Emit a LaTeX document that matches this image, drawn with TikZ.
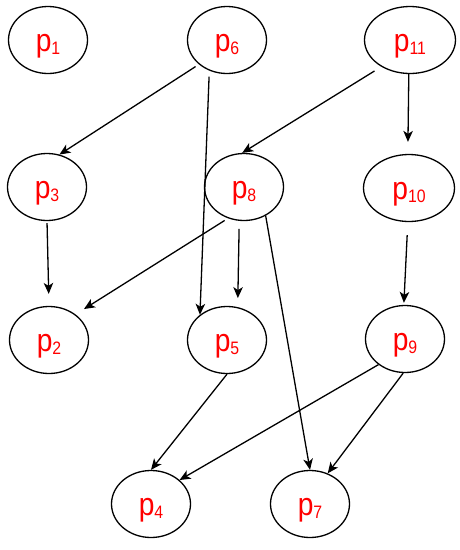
\documentclass[tikz,border=0pt]{standalone}
\usepackage{fontspec}
\usetikzlibrary{shapes.geometric, arrows.meta}
\newfontfamily\labelfont[FakeStretch=0.88]{Liberation Sans}
\newcommand{\pname}[1]{p\raisebox{-3.5pt}{\fontsize{18}{18}\selectfont #1}}

\begin{document}
\begin{tikzpicture}[
    x=1pt, y=-1pt,
    >={Stealth[length=11pt, width=9.5pt, inset=3pt]},
    proc/.style={ellipse, draw, line width=1.3pt, minimum width=79pt, minimum height=67pt,
                 inner sep=0pt, text=red, font=\labelfont\fontsize{32}{34}\selectfont,
                 text height=22pt, text depth=0pt},
    wide/.style={minimum width=91pt},
    dep/.style={->, line width=1.3pt}
  ]
  \useasboundingbox (0,0) rectangle (459,550);

  % --- PROCESSES ---
  \node[proc] (p1) at (48,40) {\pname{1}};
  \node[proc] (p6) at (227,40) {\pname{6}};
  \node[proc, wide] (p11) at (410,40) {\pname{11}};

  \node[proc] (p3) at (47,187) {\pname{3}};
  \node[proc] (p8) at (244,187) {\pname{8}};
  \node[proc, wide] (p10) at (409,188) {\pname{10}};

  \node[proc] (p2) at (49,340) {\pname{2}};
  \node[proc] (p5) at (227,340) {\pname{5}};
  \node[proc] (p9) at (405,339) {\pname{9}};

  \node[proc] (p4) at (151,504) {\pname{4}};
  \node[proc] (p7) at (310,504) {\pname{7}};

  % --- DEPENDENCIES ---

  % From p6 and p11
  \draw[dep, shorten <=4pt] (p6.-139) -- (p3.69);
  \draw[dep, shorten <=6pt] (p6.-120) -- (p5.137);
  \draw[dep, shorten <=8pt] (p11.-137) -- (p8.93);
  \draw[dep, shorten >=12pt] (p11.-92) -- (p10.92);

  % From p3, p8 and p10
  \draw[dep, shorten <=2pt, shorten >=12pt] (p3.south) -- (p2.north);
  \draw[dep, shorten <=4pt, shorten >=10pt] (p8.-117) -- (p2.44);
  \draw[dep, shorten <=8pt, shorten >=9pt] (p8.-98) -- (p5.72);
  \draw[dep] (p8.-53) -- (p7.north);
  \draw[dep, shorten <=13pt, shorten >=2pt] (p10.-92) -- (p9.92);

  % From p5 and p9
  \draw[dep] (p5.south) -- (p4.north);
  \draw[dep] (p9.-136) -- (p4.40);
  \draw[dep] (p9.-93) -- (p7.60);

\end{tikzpicture}
\end{document}
